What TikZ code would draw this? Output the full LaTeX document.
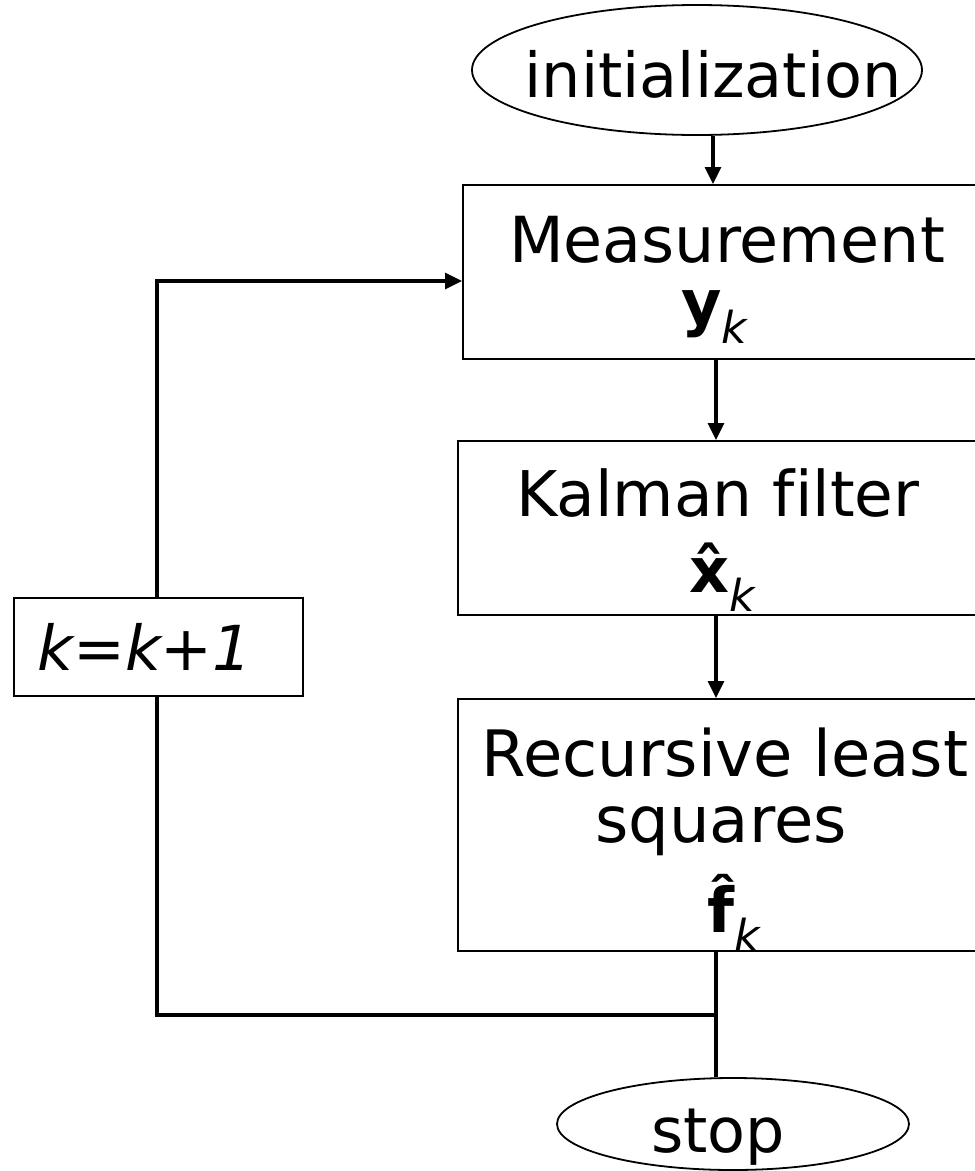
\documentclass[tikz,border=0pt]{standalone}
\usepackage{fontspec}
\setmainfont{DejaVu Sans}[Ligatures=NoCommon]
\usetikzlibrary{shapes.geometric,arrows.meta}
\newcommand\subk{\raisebox{-19pt}{\fontsize{44}{44}\selectfont\itshape k}}
\begin{document}
\begin{tikzpicture}[x=1pt,y=-1pt,
  ell/.style={ellipse, draw, line width=1.8pt, inner sep=0pt},
  blk/.style={rectangle, draw, line width=2.3pt, inner sep=0pt, anchor=north west},
  lbl/.style={font=\fontsize{62}{62}\selectfont, anchor=base, inner sep=0pt},
  conn/.style={line width=3.3pt},
  arr/.style={conn, -{Triangle[length=17pt,width=16pt]}}]
\useasboundingbox (0,0) rectangle (975,1171);
\clip (0,0) rectangle (975,1171);
% shapes
\node[ell, minimum width=450pt, minimum height=130pt] (init) at (697,70) {};
\node[blk, minimum width=540pt, minimum height=174pt] (meas) at (462,184) {};
\node[blk, minimum width=540pt, minimum height=174pt] (kal) at (457,440) {};
\node[blk, minimum width=540pt, minimum height=252pt] (rls) at (457,698) {};
\node[blk, minimum width=289pt, minimum height=98pt] (kbox) at (13,597) {};
\node[ell, minimum width=352pt, minimum height=92pt] (stop) at (733,1124) {};
% texts
\node[lbl] (initT) at (713,97) {initialization};
\node[lbl, font=\fontsize{63.5}{63.5}\selectfont] (measT) at (727,262) {Measurement};
\node[lbl] (measV) at (714,324) {\textbf{y}\subk};
\node[lbl, font=\fontsize{63}{63}\selectfont] (kalT) at (718,516) {Kalman filter};
\node[lbl] (kalV) at (722,592) {\textbf{\^{x}}\subk};
\node[lbl, font=\fontsize{64}{64}\selectfont] (rlsT) at (725,776) {Recursive least};
\node[lbl, font=\fontsize{64}{64}\selectfont] (rlsS) at (721,842) {squares};
\node[lbl] (rlsV) at (734,932) {\textbf{\^{f}}\subk};
\node[lbl, anchor=base west] (kT) at (37,670) {\itshape k=k+1};
\node[lbl] (stopT) at (718,1152) {stop};
% connectors
\coordinate (m1) at (716,1015);
\coordinate (m2) at (157,1015);
\coordinate (u1) at (157,281);
\draw[arr] (init.south -| 713,0) -- (meas.north -| 713,0);
\draw[arr] (meas.south -| 716,0) -- (kal.north -| 716,0);
\draw[arr] (kal.south -| 716,0) -- (rls.north -| 716,0);
\draw[conn] (rls.south -| 716,0) -- (stop.north -| 716,0);
\draw[conn] (m1) -- (m2) -- (kbox.south -| m2);
\draw[arr] (kbox.north -| u1) -- (u1) -- (meas.west |- u1);
\end{tikzpicture}
\end{document}
